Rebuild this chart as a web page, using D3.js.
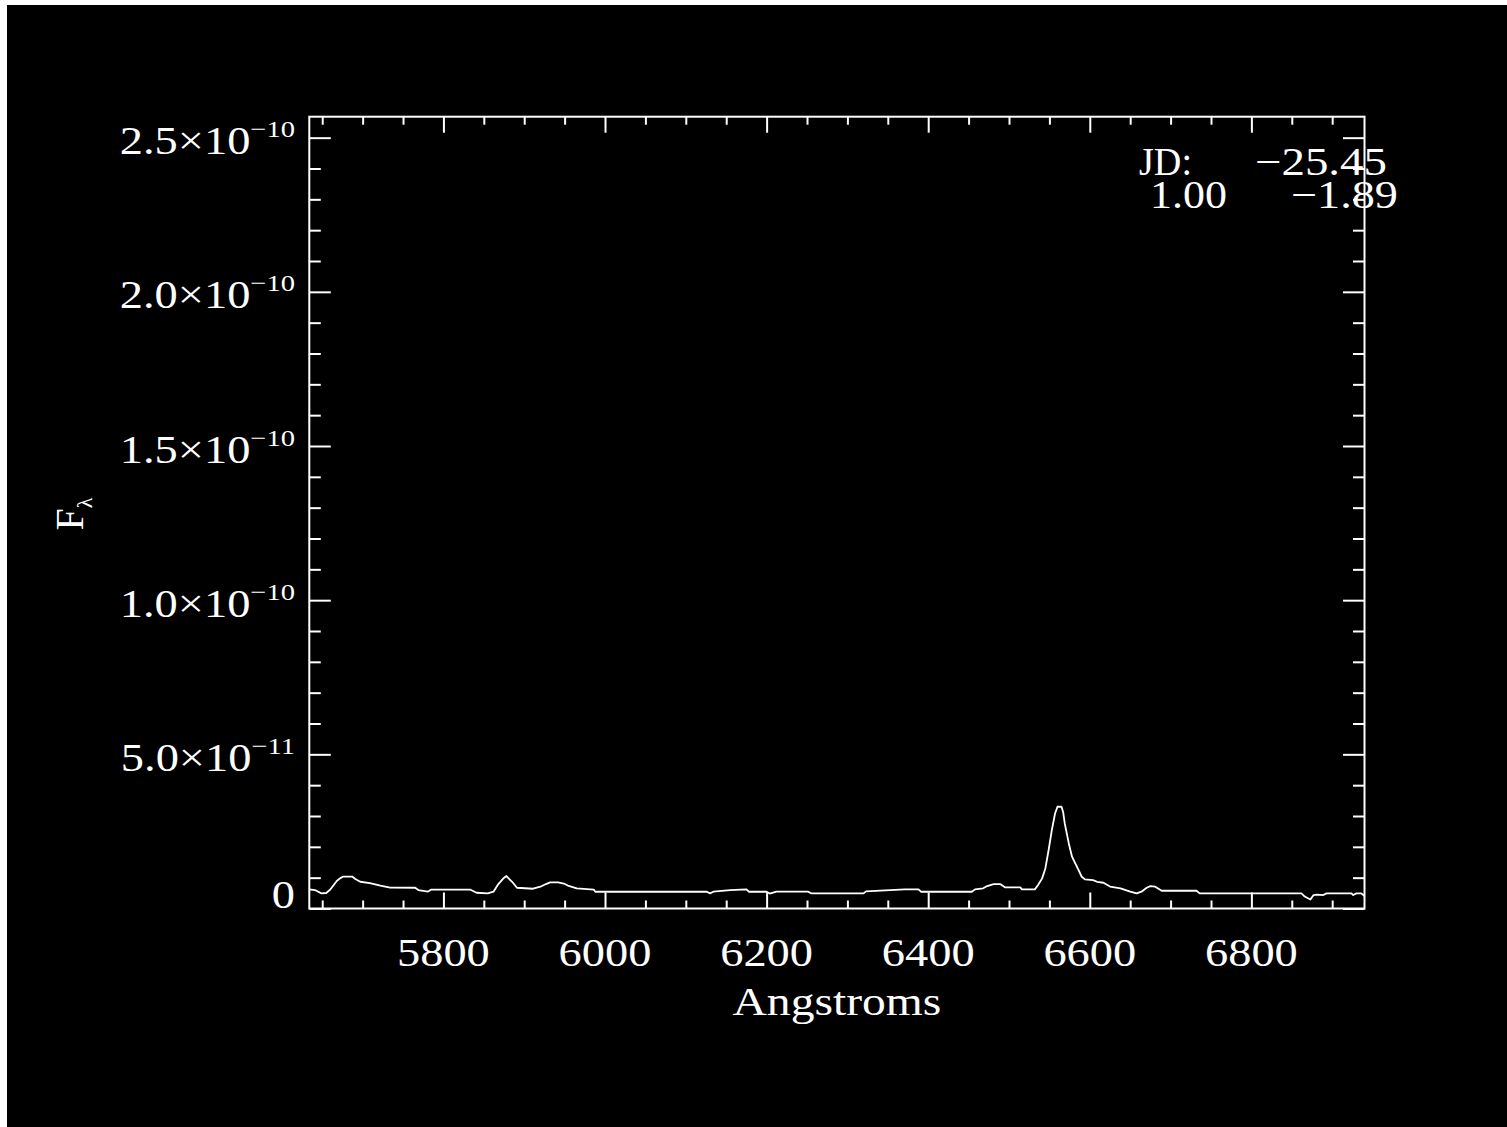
<!DOCTYPE html>
<html>
<head>
<meta charset="utf-8">
<script src="https://cdn.jsdelivr.net/npm/d3@7"></script>
<style>
  html, body { margin: 0; padding: 0; background: #ffffff; }
  svg { display: block; }
</style>
</head>
<body>
<svg id="chart" width="1507" height="1127"></svg>
<script>
// Spectrum: wavelength in Angstroms, flux density in units of 1e-12
const wavelength = [
  5634, 5641, 5649, 5655, 5660, 5668, 5672, 5676, 5687, 5691,
  5697, 5709, 5722, 5734, 5765, 5769, 5781, 5785, 5833, 5841,
  5855, 5862, 5868, 5874, 5878, 5881, 5885, 5891, 5911, 5920,
  5927, 5932, 5942, 5949, 5954, 5965, 5986, 5988, 6126, 6130,
  6134, 6155, 6175, 6178, 6200, 6204, 6212, 6251, 6255, 6320,
  6323, 6371, 6388, 6391, 6454, 6458, 6468, 6473, 6481, 6489,
  6495, 6514, 6516, 6532, 6536, 6541, 6545, 6549, 6553, 6557,
  6560, 6565, 6567, 6569, 6574, 6578, 6582, 6586, 6590, 6594,
  6604, 6609, 6617, 6625, 6638, 6650, 6658, 6664, 6670, 6675,
  6681, 6689, 6732, 6736, 6862, 6866, 6873, 6877, 6881, 6889,
  6893, 6924, 6926, 6930, 6936, 6940
];
const fluxE12 = [
  6.21, 5.99, 4.92, 5.02, 6.15, 8.90, 9.77, 10.36, 10.36, 9.55,
  8.67, 8.25, 7.44, 6.80, 6.73, 5.99, 5.50, 6.15, 6.15, 5.11,
  4.92, 5.44, 7.93, 9.71, 10.52, 9.71, 8.67, 6.73, 6.41, 7.06,
  7.93, 8.48, 8.48, 8.09, 7.44, 6.54, 6.15, 5.44, 5.44, 4.92,
  5.44, 5.99, 6.21, 5.44, 5.44, 4.85, 5.50, 5.50, 4.92, 4.92,
  5.57, 6.21, 6.21, 5.44, 5.44, 6.21, 6.54, 7.28, 7.93, 7.93,
  6.86, 6.86, 6.21, 6.21, 7.61, 9.77, 13.0, 18.9, 25.4, 30.8,
  33.0, 33.0, 31.3, 27.6, 21.1, 16.8, 14.6, 12.5, 10.3, 9.45,
  9.22, 8.67, 8.35, 7.12, 6.54, 5.50, 4.92, 5.44, 6.63, 7.28,
  7.06, 5.76, 5.76, 4.92, 4.92, 3.88, 2.91, 4.37, 4.53, 4.37,
  4.92, 4.92, 4.37, 4.92, 4.92, 4.05
];

const xDomain = [5634, 6940];
const yDomain = [0, 2.568e-10];

const xMajorTicks = [5800, 6000, 6200, 6400, 6600, 6800];
const xTickLabels = ["5800", "6000", "6200", "6400", "6600", "6800"];
const xMinorStep = 50;

const yMajorTicks = [0, 5e-11, 1e-10, 1.5e-10, 2e-10, 2.5e-10];
const yTickMantissa = ["0", "5.0×10", "1.0×10", "1.5×10", "2.0×10", "2.5×10"];
const yTickExponent = ["", "−11", "−10", "−10", "−10", "−10"];
const yMinorStep = 1e-11;

const xTitle = "Angstroms";
const yTitleMain = "F";
const yTitleSub = "λ";

const infoRows = [
  { label: "JD:", value: "−25.45" },
  { label: "1.00", value: "−1.89" }
];

// ---- layout ----
const svg = d3.select("#chart");
const W = 1507, H = 1127;
const frame = { left: 309.3, top: 116.7, right: 1364.5, bottom: 908.5 };
const FONT = "'Liberation Serif', 'DejaVu Serif', serif";
const INK = "#ffffff";
const SX = 1.19; // horizontal stretch for the wide stroke lettering

// page edge and black plotting surface
svg.append("rect").attr("x", 0).attr("y", 0).attr("width", W).attr("height", H).attr("fill", "#ffffff");
svg.append("rect").attr("x", 7).attr("y", 5).attr("width", W - 7).attr("height", H - 5).attr("fill", "#000000");

const x = d3.scaleLinear().domain(xDomain).range([frame.left, frame.right]);
const y = d3.scaleLinear().domain(yDomain).range([frame.bottom, frame.top]);

const xMinorTicks = d3.range(Math.ceil(xDomain[0] / xMinorStep) * xMinorStep, xDomain[1] + 1e-9, xMinorStep)
  .filter(v => !xMajorTicks.includes(v));
const yMinorTicks = d3.range(1, Math.floor(yDomain[1] / yMinorStep) + 1)
  .map(i => i * yMinorStep)
  .filter(v => !yMajorTicks.some(m => Math.abs(m - v) < 1e-15));

const xMajLen = 16, xMinLen = 8, yMajLen = 21.5, yMinLen = 11.5;

function tickAxis(gen, pos, values, len, transform) {
  const g = svg.append("g")
    .attr("transform", transform)
    .call(gen(pos).tickValues(values).tickSizeInner(len).tickSizeOuter(0).tickFormat(""));
  g.select(".domain").remove();
  g.selectAll(".tick line").attr("stroke", INK).attr("stroke-width", 2);
  return g;
}

// bottom / top ticks point inward
tickAxis(d3.axisBottom, x, xMajorTicks, -xMajLen, `translate(0,${frame.bottom})`);
tickAxis(d3.axisBottom, x, xMinorTicks, -xMinLen, `translate(0,${frame.bottom})`);
tickAxis(d3.axisTop, x, xMajorTicks, -xMajLen, `translate(0,${frame.top})`);
tickAxis(d3.axisTop, x, xMinorTicks, -xMinLen, `translate(0,${frame.top})`);
// left / right ticks point inward
tickAxis(d3.axisLeft, y, yMajorTicks, -yMajLen, `translate(${frame.left},0)`);
tickAxis(d3.axisLeft, y, yMinorTicks, -yMinLen, `translate(${frame.left},0)`);
tickAxis(d3.axisRight, y, yMajorTicks, -yMajLen, `translate(${frame.right},0)`);
tickAxis(d3.axisRight, y, yMinorTicks, -yMinLen, `translate(${frame.right},0)`);

// plot frame
svg.append("rect")
  .attr("x", frame.left).attr("y", frame.top)
  .attr("width", frame.right - frame.left).attr("height", frame.bottom - frame.top)
  .attr("fill", "none").attr("stroke", INK).attr("stroke-width", 2);

// spectrum trace
const series = wavelength.map((w, i) => ({ w, f: fluxE12[i] * 1e-12 }));
svg.append("path")
  .datum(series)
  .attr("fill", "none")
  .attr("stroke", INK)
  .attr("stroke-width", 1.8)
  .attr("stroke-linejoin", "round")
  .attr("d", d3.line().x(d => x(d.w)).y(d => y(d.f)));

// x tick labels
svg.append("g").selectAll("text")
  .data(xMajorTicks)
  .join("text")
  .attr("transform", d => `translate(${x(d)},966) scale(${SX},1)`)
  .attr("text-anchor", "middle")
  .attr("font-family", FONT).attr("font-size", 39).attr("fill", INK)
  .text((d, i) => xTickLabels[i]);

// y tick labels with superscript exponents
const yLab = svg.append("g").selectAll("text")
  .data(yMajorTicks)
  .join("text")
  .attr("transform", d => `translate(295,${y(d)}) scale(${SX},1)`)
  .attr("text-anchor", "end")
  .attr("font-family", FONT).attr("fill", INK)
  .attr("y", (d, i) => yTickExponent[i] ? 16.5 : -0.5);
yLab.append("tspan")
  .attr("font-size", 39)
  .text((d, i) => yTickMantissa[i]);
yLab.filter((d, i) => yTickExponent[i] !== "")
  .append("tspan")
  .attr("font-size", 24)
  .attr("dy", -17)
  .text(d => yTickExponent[yMajorTicks.indexOf(d)]);

// x axis title
svg.append("text")
  .attr("transform", `translate(${(frame.left + frame.right) / 2},1015) scale(1.22,1)`)
  .attr("text-anchor", "middle")
  .attr("font-family", FONT).attr("font-size", 39).attr("fill", INK)
  .text(xTitle);

// y axis title: F with subscript lambda
const yt = svg.append("text")
  .attr("transform", "translate(83,514) rotate(-90)")
  .attr("text-anchor", "middle")
  .attr("font-family", FONT).attr("fill", INK);
yt.append("tspan").attr("font-size", 40).text(yTitleMain);
yt.append("tspan").attr("font-size", 22).attr("dy", 9).text(yTitleSub);

// info block, top right
const infoLayout = [
  { lx: 1139, lw: 53, vx: 1255, vw: 132, base: 175 },
  { lx: 1150, lw: 77, vx: 1291, vw: 107, base: 208 }
];
infoRows.forEach((row, i) => {
  const L = infoLayout[i];
  svg.append("text")
    .attr("x", L.lx).attr("y", L.base)
    .attr("textLength", L.lw).attr("lengthAdjust", "spacingAndGlyphs")
    .attr("font-family", FONT).attr("font-size", 39).attr("fill", INK)
    .text(row.label);
  svg.append("text")
    .attr("x", L.vx).attr("y", L.base)
    .attr("textLength", L.vw).attr("lengthAdjust", "spacingAndGlyphs")
    .attr("font-family", FONT).attr("font-size", 39).attr("fill", INK)
    .text(row.value);
});
</script>
</body>
</html>
